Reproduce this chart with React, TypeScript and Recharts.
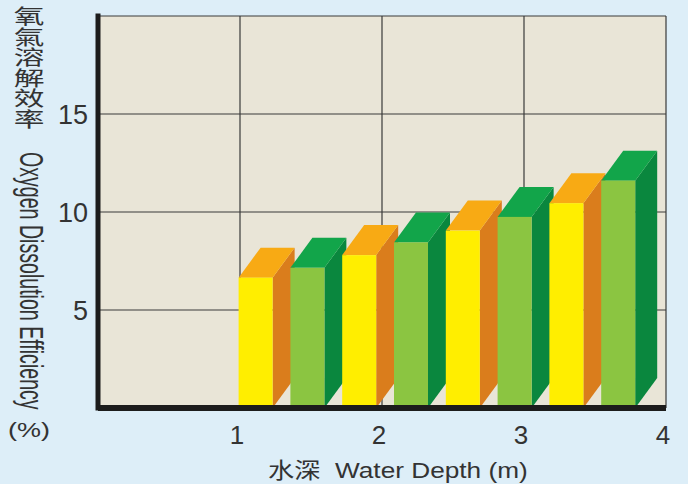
import React from 'react';
import { ComposedChart, Bar, XAxis, YAxis, CartesianGrid } from 'recharts';

// ---- data ----
const groups = ['G1', 'G2', 'G3', 'G4'];
const seriesA = [6.65, 7.8, 9.05, 10.45]; // yellow bars
const seriesB = [7.15, 8.45, 9.75, 11.6]; // green bars
const xTicks = [0, 1, 2, 3, 4];
const yTicks = [0, 5, 10, 15, 20];
const yTitleCn = '氧氣溶解效率';
const yTitleEn = 'Oxygen Dissolution Efficiency';
const yTitleUnit = '(%)';
const xTitle = '水深  Water Depth (m)';

const rows = groups.flatMap((g, i) => [
  { slot: `${g}-a`, kind: 'a', value: seriesA[i] },
  { slot: `${g}-b`, kind: 'b', value: seriesB[i] },
]);

const PALETTE: Record<string, { front: string; top: string; side: string }> = {
  a: { front: '#FFEE00', top: '#F8AA14', side: '#DA7D1C' },
  b: { front: '#8BC541', top: '#12A54A', side: '#0A873E' },
};

const FONT = '"Liberation Sans", Arial, "Noto Sans CJK TC", sans-serif';
const TEXT = '#333333';

const Box3D = (props: any) => {
  const { x, y, width, height, payload } = props;
  const p = PALETTE[payload.kind];
  const dx = 22;
  const dy = 30;
  return (
    <g>
      <polygon
        points={`${x + width},${y} ${x + width + dx},${y - dy} ${x + width + dx},${y + height - dy} ${x + width},${y + height}`}
        fill={p.side}
      />
      <polygon
        points={`${x},${y} ${x + dx},${y - dy} ${x + width + dx},${y - dy} ${x + width},${y}`}
        fill={p.top}
      />
      <rect x={x} y={y} width={width} height={height} fill={p.front} />
    </g>
  );
};

const YTitle = () => (
  <g fill={TEXT} fontFamily={FONT}>
    <text
      transform="translate(29, 6) scale(1.5, 1)"
      fontSize={20.5}
      fontFamily='"Noto Sans CJK TC", sans-serif'
      style={{ writingMode: 'vertical-rl', textOrientation: 'upright' } as any}
    >
      {yTitleCn}
    </text>
    <text transform="translate(19.5, 152) scale(1.65, 1) rotate(90)" fontSize={19.6}>
      {yTitleEn}
    </text>
    <text transform="translate(29, 437) scale(1.35, 1)" textAnchor="middle" fontSize={20}>
      {yTitleUnit}
    </text>
  </g>
);

const XTitle = () => (
  <text
    transform="translate(268, 478) scale(1.22, 1)"
    fill={TEXT}
    fontSize={21.5}
    fontFamily={FONT}
    xmlSpace="preserve"
    style={{ whiteSpace: 'pre' }}
  >
    {xTitle}
  </text>
);

const noValue = () => undefined;

export default function App() {
  return (
    <div
      style={{
        position: 'absolute',
        left: 0,
        top: 0,
        width: 688,
        height: 484,
        background: '#DDEEF8',
      }}
    >
      <ComposedChart
        width={688}
        height={484}
        data={rows}
        margin={{ top: 16, right: 22, bottom: 36, left: 0 }}
      >
        <CartesianGrid
          xAxisId="num"
          yAxisId="v"
          fill="#E9E5D7"
          fillOpacity={1}
          stroke="#3a3a3a"
          strokeWidth={1.2}
        />
        <XAxis
          xAxisId="cat"
          dataKey="slot"
          type="category"
          hide
          height={0}
          padding={{ left: 131.6, right: 22 }}
        />
        <Bar
          xAxisId="cat"
          yAxisId="v"
          dataKey="value"
          barSize={34}
          shape={Box3D}
          isAnimationActive={false}
        />
        <XAxis
          xAxisId="num"
          type="number"
          dataKey={noValue}
          domain={[0, 4]}
          ticks={xTicks}
          allowDataOverflow
          height={40}
          axisLine={{ stroke: '#1c1c1c', strokeWidth: 6 }}
          tickLine={false}
          tickSize={0}
          tickMargin={18}
          tick={{ fontSize: 26, fill: TEXT, fontFamily: FONT, dx: -3 }}
          tickFormatter={(v: number) => (v === 0 ? '' : String(v))}
          label={<XTitle />}
        />
        <YAxis
          yAxisId="v"
          type="number"
          domain={[0, 20]}
          ticks={yTicks}
          allowDataOverflow
          width={98}
          axisLine={{ stroke: '#1c1c1c', strokeWidth: 5, strokeLinecap: 'square' }}
          tickLine={false}
          tickSize={0}
          tickMargin={10}
          tick={{ fontSize: 27, fill: TEXT, fontFamily: FONT }}
          tickFormatter={(v: number) => (v === 0 || v === 20 ? '' : String(v))}
          label={<YTitle />}
        />
      </ComposedChart>
    </div>
  );
}
